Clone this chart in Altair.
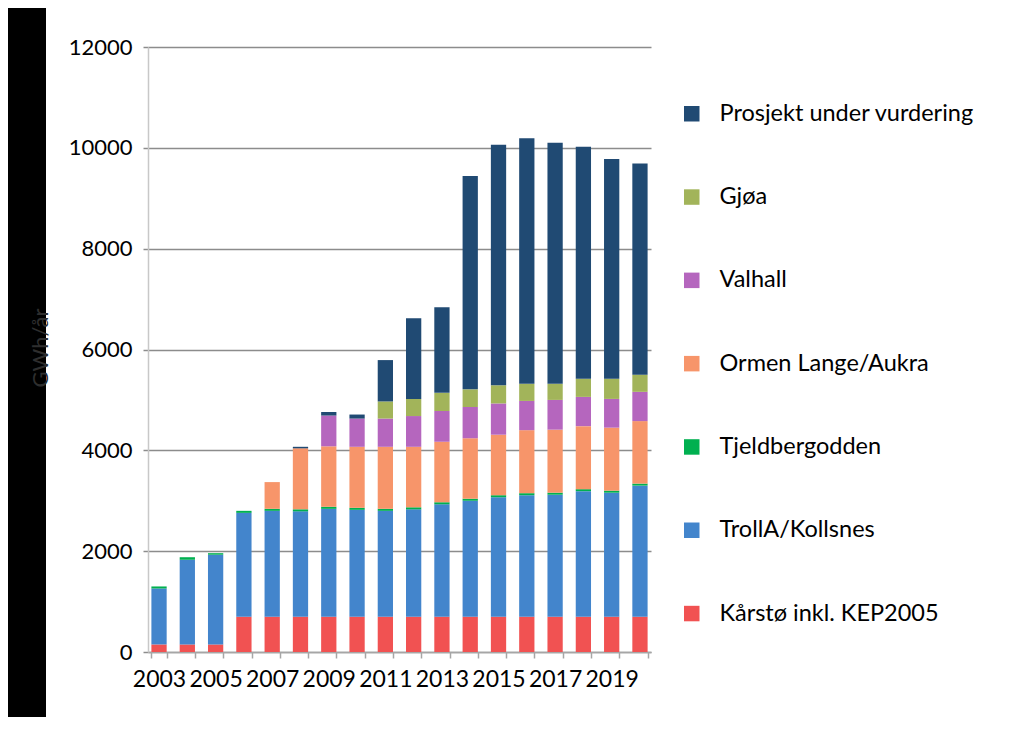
import altair as alt
import pandas as pd

years = [2003, 2004, 2005, 2006, 2007, 2008, 2009, 2010, 2011, 2012,
         2013, 2014, 2015, 2016, 2017, 2018, 2019, 2020]
karsto   = [150, 150, 150, 700, 700, 700, 700, 700, 700, 700, 700, 700, 700, 700, 700, 700, 700, 700]
troll    = [1110, 1680, 1780, 2060, 2100, 2090, 2140, 2120, 2100, 2130, 2230, 2300, 2370, 2410, 2420, 2490, 2460, 2600]
tjeld    = [40, 50, 30, 40, 40, 40, 40, 40, 40, 40, 40, 40, 40, 40, 40, 40, 40, 40]
ormen    = [0, 0, 0, 0, 530, 1210, 1200, 1210, 1230, 1200, 1200, 1200, 1200, 1250, 1250, 1250, 1250, 1240]
valhall  = [0, 0, 0, 0, 0, 0, 610, 560, 560, 610, 610, 620, 620, 580, 590, 580, 570, 580]
gjoa     = [0, 0, 0, 0, 0, 0, 0, 0, 340, 340, 360, 350, 360, 340, 320, 360, 400, 340]
prosjekt = [0, 0, 0, 0, 0, 30, 70, 80, 820, 1600, 1700, 4230, 4770, 4870, 4780, 4600, 4360, 4190]

series_names = ["Kårstø inkl. KEP2005", "TrollA/Kollsnes", "Tjeldbergodden",
                "Ormen Lange/Aukra", "Valhall", "Gjøa", "Prosjekt under vurdering"]
series_values = [karsto, troll, tjeld, ormen, valhall, gjoa, prosjekt]
series_colors = ["#F15252", "#4385CC", "#00B050", "#F7956A", "#B566BE", "#A2B45A", "#204A73"]

y_title = "GWh/år"

rows = []
for k, (name, vals) in enumerate(zip(series_names, series_values)):
    for yr, v in zip(years, vals):
        rows.append({"year": yr, "serie": name, "value": v, "ord": k})
df = pd.DataFrame(rows)

legend_order = list(reversed(series_names))
legend_colors = list(reversed(series_colors))

FONT = "Lato"

bars = alt.Chart(df).mark_bar(strokeWidth=0).encode(
    x=alt.X("year:O",
            scale=alt.Scale(paddingInner=0.46, paddingOuter=0.12),
            axis=alt.Axis(title=None, labelAngle=0, labelFontSize=23, labelFont=FONT,
                          labelColor="#000000", labelPadding=10,
                          labelExpr="datum.value % 2 == 1 ? datum.label : ''",
                          tickBand="extent", tickSize=6, tickColor="#A6A6A6", tickWidth=1.5,
                          domainColor="#A6A6A6", domainWidth=1.5, grid=False)),
    y=alt.Y("value:Q", stack="zero",
            scale=alt.Scale(domain=[0, 12000], nice=False),
            axis=alt.Axis(title=None, values=[0, 2000, 4000, 6000, 8000, 10000, 12000],
                          format="d",
                          labelFontSize=22, labelFont=FONT, labelColor="#000000",
                          labelPadding=11, tickSize=5, tickColor="#8C8C8C", tickWidth=1.5,
                          grid=True, gridColor="#8C8C8C", gridWidth=1.5,
                          domainColor="#C8C8C8", domainWidth=1.5)),
    color=alt.Color("serie:N",
                    scale=alt.Scale(domain=legend_order, range=legend_colors),
                    legend=alt.Legend(title=None, orient="none", legendX=532, legendY=55,
                                      symbolType="square", symbolSize=240, symbolStrokeWidth=0,
                                      labelFontSize=23.5, labelFont=FONT, labelColor="#000000",
                                      labelOffset=16, rowPadding=58.3, padding=0,
                                      labelLimit=400)),
    order=alt.Order("ord:Q", sort="ascending"),
)

one = pd.DataFrame({"t": [y_title]})
band = alt.Chart(one).mark_rect(color="black").encode(
    x=alt.value(-140), x2=alt.value(-102), y=alt.value(-39), y2=alt.value(670)
)
ytitle = alt.Chart(one).mark_text(angle=270, fontSize=22, font=FONT, color="#2E2E2E",
                                  align="center", baseline="middle").encode(
    x=alt.value(-107), y=alt.value(301), text="t:N"
)

chart = alt.layer(band, bars, ytitle).properties(
    width=503, height=605,
    padding={"left": 140, "top": 39, "right": 357, "bottom": 65},
    autosize="none",
    background="white",
).configure_view(stroke=None)

chart.save("out.html", embed_options={"renderer": "svg", "actions": False})
